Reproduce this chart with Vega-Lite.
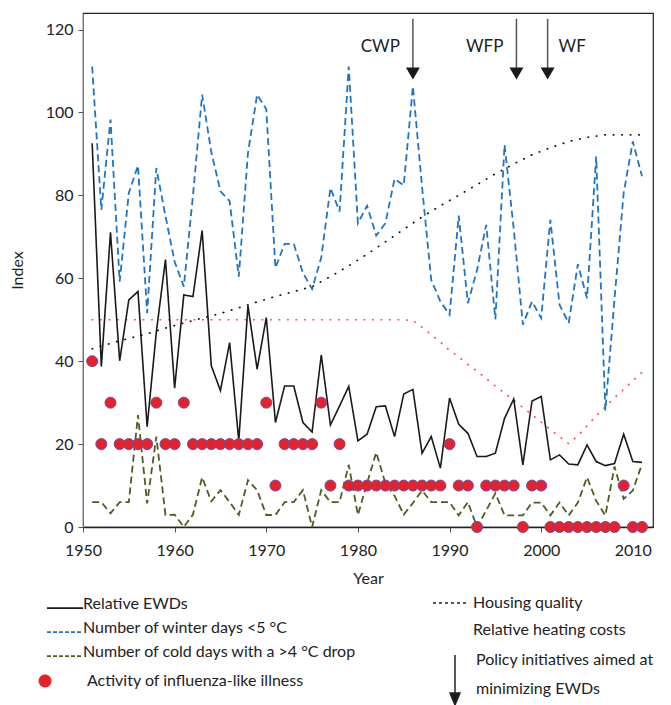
{
  "$schema": "https://vega.github.io/schema/vega-lite/v6.json",
  "width": 570,
  "height": 514,
  "autosize": {"type": "none"},
  "padding": {"left": 83, "top": 13, "right": 18, "bottom": 178},
  "background": "white",
  "config": {
    "font": "Lato",
    "view": {"stroke": "#222", "strokeWidth": 1.2},
    "style": {"guide-label": {"lineHeight": 29}},
    "axis": {"labelFont": "Lato", "labelFontSize": 16, "labelColor": "#222", "titleFont": "Lato", "titleFontSize": 16, "titleFontWeight": "normal", "titleColor": "#222", "grid": false, "tickColor": "#555", "tickSize": 5, "domainColor": "#444", "labelFlush": false},
    "axisX": {"labelPadding": 10, "titlePadding": 12, "domainColor": "#222", "domainWidth": 1.5},
    "axisY": {"labelPadding": 5, "titlePadding": 20, "domainColor": "#777"}
  },
  "datasets": {
    "main": [
      {"year":1951,"ewd":92.6,"winter":111.1,"cold":6,"flu":40},
      {"year":1952,"ewd":38.7,"winter":76.5,"cold":6,"flu":20},
      {"year":1953,"ewd":71.1,"winter":98.3,"cold":3.3,"flu":30},
      {"year":1954,"ewd":40.1,"winter":59.2,"cold":6,"flu":20},
      {"year":1955,"ewd":54.8,"winter":80.6,"cold":6,"flu":20},
      {"year":1956,"ewd":56.8,"winter":87.2,"cold":27,"flu":20},
      {"year":1957,"ewd":24.2,"winter":51.6,"cold":5.7,"flu":20},
      {"year":1958,"ewd":47,"winter":86.6,"cold":21.8,"flu":30},
      {"year":1959,"ewd":64.5,"winter":75,"cold":2.9,"flu":20},
      {"year":1960,"ewd":33.5,"winter":64,"cold":3,"flu":20},
      {"year":1961,"ewd":56,"winter":58,"cold":0,"flu":30},
      {"year":1962,"ewd":55.6,"winter":80,"cold":3,"flu":20},
      {"year":1963,"ewd":71.5,"winter":104.3,"cold":12,"flu":20},
      {"year":1964,"ewd":38.9,"winter":90.5,"cold":6.2,"flu":20},
      {"year":1965,"ewd":32.9,"winter":81,"cold":8.9,"flu":20},
      {"year":1966,"ewd":44.5,"winter":78.6,"cold":6,"flu":20},
      {"year":1967,"ewd":20.8,"winter":60.4,"cold":2.9,"flu":20},
      {"year":1968,"ewd":53.4,"winter":90.2,"cold":11.3,"flu":20},
      {"year":1969,"ewd":38.1,"winter":104.3,"cold":8.9,"flu":20},
      {"year":1970,"ewd":50.5,"winter":100.8,"cold":2.9,"flu":30},
      {"year":1971,"ewd":25.2,"winter":62.5,"cold":2.9,"flu":10},
      {"year":1972,"ewd":34,"winter":68.3,"cold":6,"flu":20},
      {"year":1973,"ewd":34,"winter":68.3,"cold":6,"flu":20},
      {"year":1974,"ewd":25.2,"winter":61.3,"cold":8.9,"flu":20},
      {"year":1975,"ewd":22.9,"winter":57.4,"cold":0,"flu":20},
      {"year":1976,"ewd":41.5,"winter":65,"cold":8.9,"flu":30},
      {"year":1977,"ewd":24.6,"winter":81.8,"cold":6,"flu":10},
      {"year":1978,"ewd":29.2,"winter":76.1,"cold":6,"flu":20},
      {"year":1979,"ewd":33.9,"winter":111.1,"cold":15,"flu":10},
      {"year":1980,"ewd":20.8,"winter":73.3,"cold":2.9,"flu":10},
      {"year":1981,"ewd":22.4,"winter":77.5,"cold":10.6,"flu":10},
      {"year":1982,"ewd":29,"winter":70.3,"cold":18,"flu":10},
      {"year":1983,"ewd":29.2,"winter":73.3,"cold":10.5,"flu":10},
      {"year":1984,"ewd":21.8,"winter":84,"cold":7.5,"flu":10},
      {"year":1985,"ewd":32.1,"winter":82.4,"cold":3,"flu":10},
      {"year":1986,"ewd":33.2,"winter":106.3,"cold":5.8,"flu":10},
      {"year":1987,"ewd":17.8,"winter":82,"cold":8.8,"flu":10},
      {"year":1988,"ewd":21.8,"winter":59.6,"cold":6,"flu":10},
      {"year":1989,"ewd":14.2,"winter":54.4,"cold":6,"flu":10},
      {"year":1990,"ewd":31.1,"winter":51.2,"cold":6,"flu":20},
      {"year":1991,"ewd":24.8,"winter":75.1,"cold":2.8,"flu":10},
      {"year":1992,"ewd":22.6,"winter":54,"cold":6,"flu":10},
      {"year":1993,"ewd":17,"winter":62,"cold":0,"flu":0},
      {"year":1994,"ewd":17,"winter":72.9,"cold":4,"flu":10},
      {"year":1995,"ewd":17.8,"winter":50.1,"cold":8.1,"flu":10},
      {"year":1996,"ewd":26.2,"winter":92.2,"cold":2.8,"flu":10},
      {"year":1997,"ewd":30.9,"winter":72,"cold":2.8,"flu":10},
      {"year":1998,"ewd":15,"winter":48.8,"cold":2.8,"flu":0},
      {"year":1999,"ewd":30.4,"winter":54.4,"cold":5.9,"flu":10},
      {"year":2000,"ewd":31.5,"winter":50.4,"cold":5.9,"flu":10},
      {"year":2001,"ewd":16.2,"winter":74.1,"cold":2.8,"flu":0},
      {"year":2002,"ewd":17.4,"winter":53.6,"cold":5.9,"flu":0},
      {"year":2003,"ewd":15.2,"winter":49.2,"cold":2.8,"flu":0},
      {"year":2004,"ewd":15,"winter":63.4,"cold":5.9,"flu":0},
      {"year":2005,"ewd":19.8,"winter":55.2,"cold":12,"flu":0},
      {"year":2006,"ewd":15.8,"winter":89.4,"cold":6.3,"flu":0},
      {"year":2007,"ewd":14.8,"winter":28.1,"cold":2.8,"flu":0},
      {"year":2008,"ewd":15.3,"winter":55,"cold":14.6,"flu":0},
      {"year":2009,"ewd":22.4,"winter":80.6,"cold":6.8,"flu":10},
      {"year":2010,"ewd":15.8,"winter":93,"cold":8.8,"flu":0},
      {"year":2011,"ewd":15.6,"winter":84.6,"cold":15.2,"flu":0}
    ],
    "housing": [
      {"year":1951,"value":43},{"year":1953,"value":44.3},{"year":1955,"value":45.5},{"year":1957,"value":46.6},
      {"year":1959,"value":48},{"year":1961,"value":49.2},{"year":1963,"value":50.4},{"year":1965,"value":51.5},
      {"year":1967,"value":52.9},{"year":1969,"value":54.3},{"year":1971,"value":55.6},{"year":1973,"value":56.8},
      {"year":1975,"value":58},{"year":1977,"value":60.4},{"year":1979,"value":63},{"year":1981,"value":65.8},
      {"year":1983,"value":68.8},{"year":1985,"value":71.8},{"year":1987,"value":74.8},{"year":1989,"value":77.5},
      {"year":1991,"value":80},{"year":1993,"value":82.6},{"year":1995,"value":85.2},{"year":1997,"value":87.6},
      {"year":1999,"value":89.8},{"year":2001,"value":91.5},{"year":2003,"value":93},{"year":2005,"value":94},
      {"year":2007,"value":94.6},{"year":2009,"value":94.6},{"year":2011,"value":94.6}
    ],
    "heating": [
      {"year":1951,"value":50},{"year":1985,"value":50},{"year":1986,"value":49.8},{"year":1987,"value":48.2},
      {"year":1988,"value":46.4},{"year":1989,"value":44.6},{"year":1990,"value":42.6},{"year":1991,"value":41},
      {"year":1992,"value":39.2},{"year":1993,"value":37.6},{"year":1994,"value":35.8},{"year":1995,"value":34},
      {"year":1996,"value":32.3},{"year":1997,"value":30.6},{"year":1998,"value":28.8},{"year":1999,"value":27.1},
      {"year":2000,"value":25.3},{"year":2001,"value":23.5},{"year":2002,"value":21.8},{"year":2003,"value":20.1},
      {"year":2004,"value":22},{"year":2005,"value":24.4},{"year":2006,"value":26.8},{"year":2007,"value":29},
      {"year":2008,"value":31.2},{"year":2009,"value":33.2},{"year":2010,"value":35.3},{"year":2011,"value":37.3}
    ],
    "policy": [
      {"name":"CWP","year":1986},
      {"name":"WFP","year":1997.3},
      {"name":"WF","year":2000.7}
    ]
  },
  "layer": [
    {
      "layer": [
        {
          "data": {"name": "housing"},
          "mark": {"type": "line", "color": "#111", "strokeWidth": 1.7, "strokeCap": "round", "strokeDash": [0.5, 8]},
          "encoding": {
            "x": {"field": "year", "type": "quantitative", "title": "Year", "scale": {"domain": [1950, 2012.2], "nice": false, "zero": false}, "axis": {"values": [1950,1960,1970,1980,1990,2000,2010], "format": "d"}},
            "y": {"field": "value", "type": "quantitative", "title": "Index", "scale": {"domain": [0, 124], "nice": false}, "axis": {"values": [0,20,40,60,80,100,120]}}
          }
        },
        {
          "data": {"name": "heating"},
          "mark": {"type": "line", "color": "#ff4a4a", "strokeWidth": 1.7, "strokeCap": "round", "strokeDash": [0.5, 8]},
          "encoding": {
            "x": {"field": "year", "type": "quantitative", "title": "Year"},
            "y": {"field": "value", "type": "quantitative", "title": "Index"}
          }
        },
        {
          "data": {"name": "main"},
          "mark": {"type": "line", "strokeWidth": 1.8, "strokeDash": [7, 4]},
          "encoding": {
            "x": {"field": "year", "type": "quantitative", "title": "Year"},
            "y": {"field": "winter", "type": "quantitative", "title": "Index"},
            "color": {
              "datum": "winter", "type": "nominal",
              "scale": {"domain": ["ewd", "winter", "cold", "flu"], "range": ["#1a1a1a", "#1f74c4", "#4b5e20", "#e8202a"]},
              "legend": {
                "orient": "none", "legendX": -34, "legendY": 575, "title": null, "padding": 0, "direction": "vertical",
                "labelExpr": "datum.value === 'ewd' ? 'Relative EWDs' : datum.value === 'winter' ? 'Number of winter days <5 °C' : datum.value === 'cold' ? 'Number of cold days with a >4 °C drop' : 'Activity of influenza-like illness'",
                "labelFont": "Lato", "labelFontSize": 16, "labelColor": "#222", "labelLimit": 500, "labelOffset": 2,
                "symbolType": "stroke", "symbolSize": 900, "symbolStrokeWidth": 1.8, "rowPadding": 0,
                "encode": {
                  "symbols": {"update": {
                    "shape": {"signal": "datum.value === 'flu' ? 'M-0.96,0.33A0.37,0.37,0,1,1,-1.7,0.33A0.37,0.37,0,1,1,-0.96,0.33Z' : 'M-1.2,0.27L1.2,0.27'"},
                    "size": {"value": 900},
                    "fill": {"signal": "datum.value === 'flu' ? '#e8202a' : 'transparent'"},
                    "stroke": {"signal": "datum.value === 'flu' ? '#6b4fa0' : datum.value === 'ewd' ? '#1a1a1a' : datum.value === 'winter' ? '#1f74c4' : '#4b5e20'"},
                    "strokeWidth": {"value": 1.8},
                    "strokeDash": {"signal": "datum.value === 'winter' || datum.value === 'cold' ? [4, 2] : [1, 0]"},
                    "opacity": {"value": 1}
                  }},
                  "labels": {"update": {
                    "dx": {"signal": "datum.value === 'flu' ? 4 : 0"},
                    "dy": {"signal": "datum.value === 'flu' ? 5 : 0"}
                  }}
                }
              }
            }
          }
        },
        {
          "data": {"name": "main"},
          "mark": {"type": "line", "strokeWidth": 1.8, "strokeDash": [7, 4]},
          "encoding": {
            "x": {"field": "year", "type": "quantitative", "title": "Year"},
            "y": {"field": "cold", "type": "quantitative", "title": "Index"},
            "color": {"datum": "cold", "type": "nominal"}
          }
        },
        {
          "data": {"name": "main"},
          "mark": {"type": "line", "strokeWidth": 1.6},
          "encoding": {
            "x": {"field": "year", "type": "quantitative", "title": "Year"},
            "y": {"field": "ewd", "type": "quantitative", "title": "Index"},
            "color": {"datum": "ewd", "type": "nominal"}
          }
        },
        {
          "data": {"name": "main"},
          "mark": {"type": "point", "filled": true, "size": 121, "stroke": "#6b4fa0", "strokeWidth": 1, "opacity": 1},
          "encoding": {
            "x": {"field": "year", "type": "quantitative", "title": "Year"},
            "y": {"field": "flu", "type": "quantitative", "title": "Index"},
            "color": {"datum": "flu", "type": "nominal"}
          }
        }
      ]
    },
    {
      "layer": [
        {
          "data": {"name": "policy"},
          "mark": {"type": "rule", "color": "#555", "strokeWidth": 1.5},
          "encoding": {
            "x": {"field": "year", "type": "quantitative", "title": "Year"},
            "y": {"datum": 122.6, "type": "quantitative"},
            "y2": {"datum": 110.3},
            "opacity": {
              "datum": "housing", "type": "nominal",
              "scale": {"domain": ["housing", "heating"], "range": [1, 0]},
              "legend": {
                "orient": "none", "legendX": 349, "legendY": 571, "title": null, "padding": 0, "direction": "vertical",
                "labelExpr": "datum.value === 'housing' ? 'Housing quality' : 'Relative heating costs'",
                "labelFont": "Lato", "labelFontSize": 16, "labelColor": "#222", "labelLimit": 500, "labelOffset": 3,
                "symbolType": "stroke", "symbolSize": 1296, "symbolStrokeWidth": 1.5, "symbolDash": [3, 3], "symbolStrokeColor": "#222", "rowPadding": 0
              }
            }
          }
        },
        {
          "data": {"name": "policy"},
          "mark": {"type": "point", "shape": "triangle-down", "filled": true, "size": 196, "opacity": 1},
          "encoding": {
            "x": {"field": "year", "type": "quantitative", "title": "Year"},
            "y": {"datum": 109.4, "type": "quantitative"},
            "fill": {
              "datum": "policy", "type": "nominal",
              "scale": {"domain": ["policy"], "range": ["#1a1a1a"]},
              "legend": {
                "orient": "none", "legendX": 356, "legendY": 631, "title": null, "padding": 0, "direction": "vertical",
                "labelExpr": "['Policy initiatives aimed at', 'minimizing EWDs']",
                "labelFont": "Lato", "labelFontSize": 16, "labelColor": "#222", "labelLimit": 500, "labelOffset": 5,
                "symbolType": "M0,-0.33L0,2.3M-0.33,2.2L0.33,2.2L0,3Z", "symbolSize": 900,
                "symbolStrokeColor": "#222", "symbolStrokeWidth": 1.5, "symbolFillColor": "#222", "symbolOpacity": 1
              }
            }
          }
        },
        {
          "data": {"name": "policy"},
          "transform": [{"filter": "datum.name !== 'WF'"}],
          "mark": {"type": "text", "align": "right", "dx": -13, "fontSize": 17, "font": "Lato", "color": "#222", "baseline": "middle"},
          "encoding": {
            "x": {"field": "year", "type": "quantitative", "title": "Year"},
            "y": {"datum": 115.9, "type": "quantitative"},
            "text": {"field": "name"}
          }
        },
        {
          "data": {"name": "policy"},
          "transform": [{"filter": "datum.name === 'WF'"}],
          "mark": {"type": "text", "align": "left", "dx": 11, "fontSize": 17, "font": "Lato", "color": "#222", "baseline": "middle"},
          "encoding": {
            "x": {"field": "year", "type": "quantitative", "title": "Year"},
            "y": {"datum": 115.9, "type": "quantitative"},
            "text": {"field": "name"}
          }
        }
      ]
    }
  ]
}
